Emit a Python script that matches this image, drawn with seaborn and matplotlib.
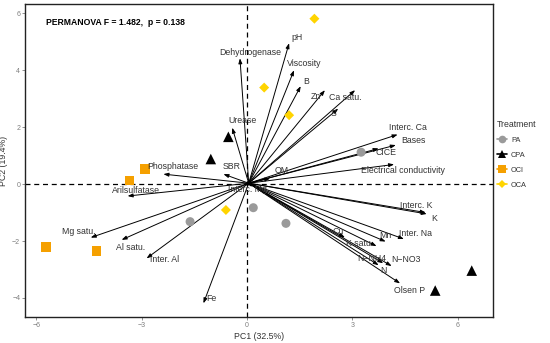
import matplotlib
matplotlib.use("Agg")
import matplotlib.pyplot as plt
from matplotlib.lines import Line2D
import seaborn as sns
import pandas as pd

# ---- data: sample scores ----
treatment = ["PA"] * 4 + ["CPA"] * 4 + ["OCI"] * 4 + ["OCA"] * 4
pc1_score = [3.25, 0.18, -1.62, 1.11,
             -0.53, -1.03, 6.40, 5.36,
             -2.90, -3.35, -5.73, -4.28,
             1.92, 0.49, 1.20, -0.60]
pc2_score = [1.12, -0.83, -1.32, -1.38,
             1.66, 0.88, -3.04, -3.74,
             0.53, 0.12, -2.22, -2.35,
             5.81, 3.39, 2.42, -0.91]

# ---- data: variable loadings (arrow tips) ----
variables = ["Dehydrogenase", "pH", "Viscosity", "B", "Zn", "Ca satu.", "S",
             "Interc. Ca", "Bases", "CICE", "Electrical conductivity", "OM",
             "SBR", "Phosphatase", "Urease", "Arilsulfatase", "Mg satu.",
             "Al satu.", "Inter. Al", "Fe", "Interc. Mg", "Interc. K", "K",
             "Inter. Na", "Mn", "K satu.", "Cu", "N\u2212NH4", "N\u2212NO3",
             "N", "Olsen P"]
pc1_load = [-0.20, 1.20, 1.34, 1.53, 2.22, 3.08, 2.60,
            4.29, 4.24, 3.75, 4.19, 0.66,
            -0.67, -2.38, -0.42, -3.40, -4.45,
            -3.57, -2.86, -1.24, 0.15, 5.09, 5.12,
            4.47, 3.95, 3.69, 2.79, 3.88, 4.12,
            3.75, 4.36]
pc2_load = [4.42, 4.95, 4.00, 3.44, 3.30, 3.30, 2.65,
            1.74, 1.37, 1.25, 0.69, 0.20,
            0.35, 0.35, 1.98, -0.42, -1.88,
            -1.96, -2.61, -4.19, -0.10, -1.00, -1.05,
            -1.93, -2.02, -2.18, -1.88, -2.78, -2.88,
            -2.85, -3.49]

# ---- layout: label offsets from arrow tips (repel-like placement) ----
label_dx = [0.29, 0.23, 0.28, 0.17, -0.26, -0.29, -0.14,
            0.28, 0.50, 0.20, 0.25, 0.33,
            0.23, 0.28, 0.30, 0.24, -0.34,
            0.26, 0.50, 0.24, -0.15, -0.28, 0.21,
            0.33, -0.02, -0.47, -0.19, -0.33, 0.42,
            0.13, 0.28]
label_dy = [0.21, 0.21, 0.24, 0.17, -0.24, -0.27, -0.17,
            0.25, 0.17, -0.13, -0.20, 0.27,
            0.28, 0.28, 0.27, 0.21, 0.21,
            -0.27, -0.03, 0.18, -0.08, 0.23, -0.15,
            0.20, 0.21, 0.08, 0.21, 0.17, 0.24,
            -0.19, -0.25]

x_ticks = [-6, -3, 0, 3, 6]
y_ticks = [-4, -2, 0, 2, 4, 6]
x_title = "PC1 (32.5%)"
y_title = "PC2 (19.4%)"
annot = "PERMANOVA F = 1.482,  p = 0.138"

order = ["PA", "CPA", "OCI", "OCA"]
palette = {"PA": "#9a9a9a", "CPA": "#000000", "OCI": "#f5a000", "OCA": "#ffd400"}
markers = {"PA": "o", "CPA": "^", "OCI": "s", "OCA": "D"}
sizes = {"PA": 42, "CPA": 58, "OCI": 48, "OCA": 26}

df = pd.DataFrame({"PC1": pc1_score, "PC2": pc2_score, "Treatment": treatment})

sns.set_theme(style="white")
plt.rcParams["font.family"] = ["Liberation Sans", "DejaVu Sans"]

fig = plt.figure(figsize=(5.5, 3.43), dpi=100)
ax = fig.add_axes([0.0455, 0.0758, 0.8505, 0.912])

ax.axhline(0, color="black", lw=0.9, ls=(0, (4, 3)), zorder=1)
ax.axvline(0, color="black", lw=0.9, ls=(0, (4, 3)), zorder=1)

for t in order:
    sub = df[df["Treatment"] == t]
    sns.scatterplot(data=sub, x="PC1", y="PC2", color=palette[t],
                    marker=markers[t], s=sizes[t], edgecolor="none",
                    ax=ax, zorder=3, legend=False)

for name, lx, ly, dx, dy in zip(variables, pc1_load, pc2_load, label_dx, label_dy):
    ax.annotate("", xy=(lx, ly), xytext=(0.05, 0.03),
                arrowprops=dict(arrowstyle="-|>,head_length=0.25,head_width=0.09",
                                color="black", lw=0.7, shrinkA=0, shrinkB=0),
                zorder=2)
    ax.text(lx + dx, ly + dy, name, fontsize=6.3, color="#333333",
            ha="center", va="center", zorder=4)

ax.text(-5.73, 5.68, annot, fontsize=6.2, fontweight="bold", color="black",
        ha="left", va="center")

ax.set_xlim(-6.32, 7.0)
ax.set_ylim(-4.67, 6.32)
ax.set_xticks(x_ticks)
ax.set_yticks(y_ticks)
ax.tick_params(axis="both", labelsize=5, colors="#7f7f7f", length=2, width=0.6,
               pad=1.5, left=True, bottom=True)
ax.set_xlabel(x_title, fontsize=6.3, color="#333333", labelpad=2)
ax.set_ylabel(y_title, fontsize=6.3, color="#333333")
ax.yaxis.set_label_coords(-0.036, 0.5)
for sp in ax.spines.values():
    sp.set_color("#222222")
    sp.set_linewidth(1.0)

handles = [Line2D([0], [0], color=palette[t], marker=markers[t], lw=1.2,
                  markersize=5.5 if t != "OCA" else 4, markeredgewidth=0)
           for t in order]
leg = ax.legend(handles, order, title="Treatment", loc="center left",
                bbox_to_anchor=(0.995, 0.52), frameon=False, fontsize=5.3,
                title_fontsize=6.3, handlelength=1.4, handletextpad=0.5,
                labelspacing=1.05)
leg.get_title().set_color("#333333")
leg._legend_box.align = "left"
for txt in leg.get_texts():
    txt.set_color("#333333")

fig.savefig("out.png", dpi=100)
